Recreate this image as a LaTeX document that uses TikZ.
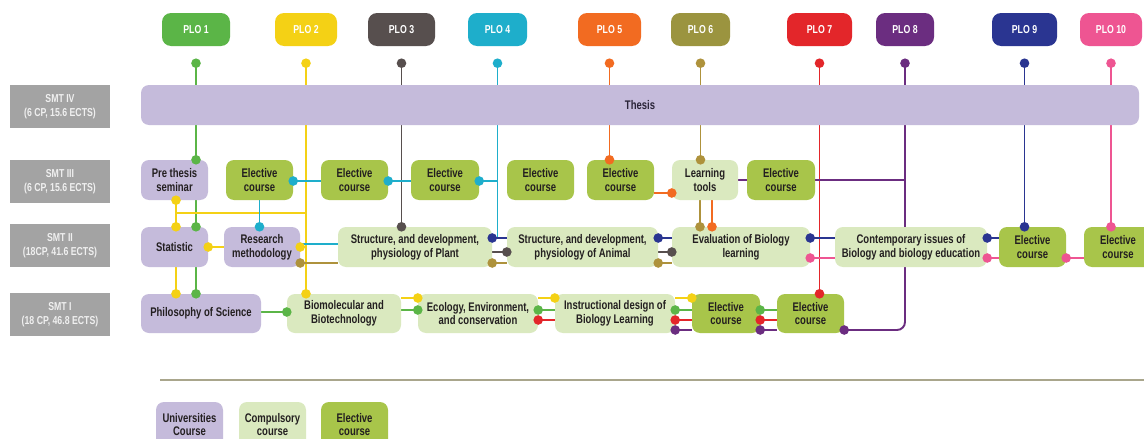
\documentclass[tikz,border=0pt]{standalone}
\usepackage{fontspec}
\setmainfont{Liberation Sans}[FakeStretch=0.76]
\definecolor{lav}{HTML}{C5BBDB}
\definecolor{comp}{HTML}{DAE9BF}
\definecolor{elec}{HTML}{A8C54A}
\definecolor{smtg}{HTML}{A3A3A3}
\definecolor{txt}{HTML}{231F20}
\definecolor{thx}{HTML}{2A2438}
\definecolor{cA}{HTML}{5BB547}
\definecolor{cB}{HTML}{F4D115}
\definecolor{cC}{HTML}{574F4E}
\definecolor{cD}{HTML}{1EAECB}
\definecolor{cE}{HTML}{F26B21}
\definecolor{cF}{HTML}{9B943F}
\definecolor{cFl}{HTML}{AE923C}
\definecolor{cG}{HTML}{E3262A}
\definecolor{cH}{HTML}{6B2D80}
\definecolor{cI}{HTML}{2A3591}
\definecolor{cJ}{HTML}{EE5592}
\definecolor{sepc}{HTML}{A9A68C}
\newcommand\bx[7]{\node[#2, minimum width={#5-#3}, minimum height={#6-#4}] (#1) at ({(#3+#5)/2},{(#4+#6)/2}) {#7};}
\newcommand\dt[2]{\fill[#1] (#2) circle (4.8pt);}
\tikzset{
  box/.style={rounded corners=8pt, inner sep=0pt, align=center, text=txt,
    font=\fontsize{12.5}{13.8}\selectfont\bfseries},
  uni/.style={box, fill=lav},
  cmp/.style={box, fill=comp},
  ele/.style={box, fill=elec},
  plo/.style={rounded corners=9pt, inner sep=0pt, text=white,
    font=\fontsize{11.5}{13}\selectfont\bfseries},
  smt/.style={inner sep=0pt, fill=smtg, text=white!94!black, align=center,
    font=\fontsize{11.5}{13.5}\selectfont\bfseries},
  ln/.style={line width=1.9pt}
}
\begin{document}
\begin{tikzpicture}[x=1pt,y=-1pt]
\fill[white] (0,0) rectangle (1144,439);
\useasboundingbox (0,0) rectangle (1144,439);
% PLO boxes
\bx{p1}{plo,fill=cA}{162}{13}{230}{46}{PLO 1}
\bx{p2}{plo,fill=cB}{275}{13}{337}{46}{PLO 2}
\bx{p3}{plo,fill=cC}{368}{13}{435}{46}{PLO 3}
\bx{p4}{plo,fill=cD}{468}{13}{527}{46}{PLO 4}
\bx{p5}{plo,fill=cE}{578}{13}{641}{46}{PLO 5}
\bx{p6}{plo,fill=cF}{671}{13}{730}{46}{PLO 6}
\bx{p7}{plo,fill=cG}{787}{13}{852}{46}{PLO 7}
\bx{p8}{plo,fill=cH}{876}{13}{934}{46}{PLO 8}
\bx{p9}{plo,fill=cI}{992}{13}{1057}{46}{PLO 9}
\bx{p10}{plo,fill=cJ}{1080}{13}{1142}{46}{PLO 10}
\foreach \i in {1,...,10} {\path (p\i.south) ++(0,17) coordinate (d\i);}
% rails
\coordinate (rCy) at (0,181);
\coordinate (rPu3) at (0,180);
\coordinate (rOr) at (0,193);
\coordinate (rYh) at (0,213);
\coordinate (rBl) at (0,238);
\coordinate (rCyb) at (0,244);
\coordinate (rY2) at (0,247);
\coordinate (rGy) at (0,252);
\coordinate (rPk) at (0,258);
\coordinate (rOl) at (0,263);
\coordinate (rY) at (0,298);
\coordinate (rGr) at (0,310);
\coordinate (rGp) at (0,312);
\coordinate (rR) at (0,320);
\coordinate (rPu) at (0,330);
\coordinate (xY) at (176,0);
\coordinate (xOl) at (700,0);
\coordinate (xOr) at (712,0);
\coordinate (sepL) at (160,380);
\coordinate (sepR) at (1144,380);
% course box positions (invisible first pass, for connectors)
\begin{scope}[every node/.append style={opacity=0}]
\bx{pre}{uni}{141}{160}{208}{200}{}
\bx{ea}{ele}{226}{160}{293}{200}{}
\bx{eb}{ele}{321}{160}{388}{200}{}
\bx{ec}{ele}{411}{160}{479}{200}{}
\bx{ed}{ele}{507}{160}{574}{200}{}
\bx{ee}{ele}{587}{160}{654}{200}{}
\bx{lt}{cmp}{672}{160}{738}{200}{}
\bx{ef}{ele}{747}{160}{815}{200}{}
\bx{stat}{uni}{141}{227}{208}{267}{}
\bx{res}{uni}{224}{227}{300}{267}{}
\bx{plant}{cmp}{338}{227}{492}{267}{}
\bx{anim}{cmp}{507}{227}{658}{267}{}
\bx{eval}{cmp}{672}{227}{810}{267}{}
\bx{cont}{cmp}{835}{227}{987}{267}{}
\bx{eg}{ele}{999}{227}{1066}{267}{}
\bx{eh}{ele}{1084}{227}{1152}{267}{}
\bx{phil}{uni}{141}{294}{261}{333}{}
\bx{bio}{cmp}{287}{294}{401}{333}{}
\bx{eco}{cmp}{418}{294}{538}{333}{}
\bx{ins}{cmp}{555}{294}{675}{333}{}
\bx{ei}{ele}{692}{294}{760}{333}{}
\bx{ej}{ele}{777}{294}{844}{333}{}
\end{scope}
% PLO verticals
\draw[ln,cA] (d1) -- (d1 |- pre.north);
\draw[ln,cB] (d2) -- (d2 |- bio.north);
\draw[ln,cC] (d3) -- (d3 |- plant.north);
\draw[ln,cD] (d4) -- (d4 |- rBl);
\draw[ln,cE] (d5) -- (d5 |- ee.north);
\draw[ln,cFl] (d6) -- (d6 |- lt.north);
\draw[ln,cG] (d7) -- (d7 |- ej.north);
\draw[ln,cH,rounded corners=8pt] (d8) -- (d8 |- rPu) -- (ej.east |- rPu);
\draw[ln,cI] (d9) -- (d9 |- eg.north);
\draw[ln,cJ] (d10) -- (d10 |- eh.north);
% green
\draw[ln,cA] (pre.south -| d1) -- (stat.north -| d1);
\draw[ln,cA] (stat.south -| d1) -- (phil.north -| d1);
\draw[ln,cA] (phil.east |- rGp) -- (bio.west |- rGp);
\draw[ln,cA] (bio.east |- rGr) -- (eco.west |- rGr);
\draw[ln,cA] (eco.east |- rGr) -- (ins.west |- rGr);
\draw[ln,cA] (ins.east |- rGr) -- (ei.west |- rGr);
\draw[ln,cA] (ei.east |- rGr) -- (ej.west |- rGr);
% yellow
\draw[ln,cB] (pre.south -| xY) -- (stat.north -| xY);
\draw[ln,cB] (xY |- rYh) -- (d2 |- rYh);
\draw[ln,cB] (stat.south -| xY) -- (phil.north -| xY);
\draw[ln,cB] (stat.east |- rY2) -- (res.west |- rY2);
\draw[ln,cB] (res.east |- rY2) -- (d2 |- rY2);
\draw[ln,cB] (bio.east |- rY) -- (eco.west |- rY);
\draw[ln,cB] (eco.east |- rY) -- (ins.west |- rY);
\draw[ln,cB] (ins.east |- rY) -- (ei.west |- rY);
% cyan
\draw[ln,cD] (ea.east |- rCy) -- (d4 |- rCy);
\draw[ln,cD] (ea.south) -- (ea.south |- res.north);
\draw[ln,cD] (res.east |- rCyb) -- (plant.west |- rCyb);
% gray
\draw[ln,cC] (plant.east |- rGy) -- (anim.west |- rGy);
\draw[ln,cC] (anim.east |- rGy) -- (eval.west |- rGy);
% blue
\draw[ln,cI] (plant.east |- rBl) -- (anim.west |- rBl);
\draw[ln,cI] (anim.east |- rBl) -- (eval.west |- rBl);
\draw[ln,cI] (eval.east |- rBl) -- (cont.west |- rBl);
\draw[ln,cI] (cont.east |- rBl) -- (eg.west |- rBl);
% olive
\draw[ln,cFl] (res.east |- rOl) -- (plant.west |- rOl);
\draw[ln,cFl] (plant.east |- rOl) -- (anim.west |- rOl);
\draw[ln,cFl] (anim.east |- rOl) -- (eval.west |- rOl);
\draw[ln,cFl] (lt.south -| xOl) -- (eval.north -| xOl);
% orange
\draw[ln,cE] (ee.east |- rOr) -- (lt.west |- rOr);
\draw[ln,cE] (lt.south -| xOr) -- (eval.north -| xOr);
% pink
\draw[ln,cJ] (eval.east |- rPk) -- (cont.west |- rPk);
\draw[ln,cJ] (cont.east |- rPk) -- (eg.west |- rPk);
\draw[ln,cJ] (eg.east |- rPk) -- (eh.west |- rPk);
% red
\draw[ln,cG] (eco.east |- rR) -- (ins.west |- rR);
\draw[ln,cG] (ins.east |- rR) -- (ei.west |- rR);
\draw[ln,cG] (ei.east |- rR) -- (ej.west |- rR);
% purple
\draw[ln,cH] (lt.east |- rPu3) -- (d8 |- rPu3);
\draw[ln,cH] (ins.east |- rPu) -- (ei.west |- rPu);
\draw[ln,cH] (ei.east |- rPu) -- (ej.west |- rPu);
% SMT labels
\bx{s4}{smt}{10}{85}{110}{128}{SMT IV\\(6 CP, 15.6 ECTS)}
\bx{s3}{smt}{10}{160}{110}{203}{SMT III\\(6 CP, 15.6 ECTS)}
\bx{s2}{smt}{10}{224}{110}{267}{SMT II\\(18CP, 41.6 ECTS)}
\bx{s1}{smt}{10}{293}{110}{336}{SMT I\\(18 CP, 46.8 ECTS)}
% thesis
\bx{th}{uni,text=thx}{141}{85}{1139}{125}{Thesis}
% course boxes
\bx{pre}{uni}{141}{160}{208}{200}{Pre thesis\\seminar}
\bx{ea}{ele}{226}{160}{293}{200}{Elective\\course}
\bx{eb}{ele}{321}{160}{388}{200}{Elective\\course}
\bx{ec}{ele}{411}{160}{479}{200}{Elective\\course}
\bx{ed}{ele}{507}{160}{574}{200}{Elective\\course}
\bx{ee}{ele}{587}{160}{654}{200}{Elective\\course}
\bx{lt}{cmp}{672}{160}{738}{200}{Learning\\tools}
\bx{ef}{ele}{747}{160}{815}{200}{Elective\\course}
\bx{stat}{uni}{141}{227}{208}{267}{Statistic}
\bx{res}{uni}{224}{227}{300}{267}{Research\\methodology}
\bx{plant}{cmp}{338}{227}{492}{267}{Structure, and development,\\physiology of Plant}
\bx{anim}{cmp}{507}{227}{658}{267}{Structure, and development,\\physiology of Animal}
\bx{eval}{cmp}{672}{227}{810}{267}{Evaluation of Biology\\learning}
\bx{cont}{cmp}{835}{227}{987}{267}{Contemporary issues of\\Biology and biology education}
\bx{eg}{ele}{999}{227}{1066}{267}{Elective\\course}
\bx{eh}{ele}{1084}{227}{1152}{267}{Elective\\course}
\bx{phil}{uni}{141}{294}{261}{333}{Philosophy of Science}
\bx{bio}{cmp}{287}{294}{401}{333}{Biomolecular and\\Biotechnology}
\bx{eco}{cmp}{418}{294}{538}{333}{Ecology, Environment,\\and conservation}
\bx{ins}{cmp}{555}{294}{675}{333}{Instructional design of\\Biology Learning}
\bx{ei}{ele}{692}{294}{760}{333}{Elective\\course}
\bx{ej}{ele}{777}{294}{844}{333}{Elective\\course}
% dots: PLO tops
\dt{cA}{d1} \dt{cB}{d2} \dt{cC}{d3} \dt{cD}{d4} \dt{cE}{d5}
\dt{cFl}{d6} \dt{cG}{d7} \dt{cH}{d8} \dt{cI}{d9} \dt{cJ}{d10}
% dots: ends
\dt{cA}{d1 |- pre.north} \dt{cB}{d2 |- bio.north} \dt{cC}{d3 |- plant.north}
\dt{cE}{d5 |- ee.north} \dt{cFl}{d6 |- lt.north} \dt{cG}{d7 |- ej.north}
\dt{cH}{ej.east |- rPu} \dt{cI}{d9 |- eg.north} \dt{cJ}{d10 |- eh.north}
\dt{cA}{stat.north -| d1} \dt{cA}{phil.north -| d1} \dt{cA}{bio.west |- rGp}
\dt{cA}{eco.east |- rGr} \dt{cA}{ins.east |- rGr} \dt{cA}{ei.east |- rGr}
\dt{cA}{eco.west |- rGr}
\dt{cB}{pre.south -| xY} \dt{cB}{stat.north -| xY} \dt{cB}{phil.north -| xY}
\dt{cB}{stat.east |- rY2} \dt{cB}{res.east |- rY2}
\dt{cB}{eco.west |- rY} \dt{cB}{ins.west |- rY} \dt{cB}{ei.west |- rY}
\dt{cD}{ea.east |- rCy} \dt{cD}{eb.east |- rCy} \dt{cD}{ec.east |- rCy}
\dt{cD}{ea.south |- res.north}
\dt{cC}{anim.west |- rGy} \dt{cC}{eval.west |- rGy}
\dt{cI}{plant.east |- rBl} \dt{cI}{anim.east |- rBl} \dt{cI}{eval.east |- rBl} \dt{cI}{cont.east |- rBl}
\dt{cFl}{res.east |- rOl} \dt{cFl}{plant.east |- rOl} \dt{cFl}{anim.east |- rOl} \dt{cFl}{eval.north -| xOl}
\dt{cE}{lt.west |- rOr} \dt{cE}{eval.north -| xOr}
\dt{cJ}{eval.east |- rPk} \dt{cJ}{cont.east |- rPk} \dt{cJ}{eg.east |- rPk}
\dt{cG}{eco.east |- rR} \dt{cG}{ins.east |- rR} \dt{cG}{ei.east |- rR}
\dt{cH}{ins.east |- rPu} \dt{cH}{ei.east |- rPu}
% separator and legend
\draw[sepc, line width=1.3pt] (sepL) -- (sepR);
\bx{lu}{uni}{156}{402}{223}{447}{Universities\\Course}
\bx{lc}{cmp}{239}{402}{306}{447}{Compulsory\\course}
\bx{le}{ele}{321}{402}{388}{447}{Elective\\course}
\end{tikzpicture}
\end{document}
